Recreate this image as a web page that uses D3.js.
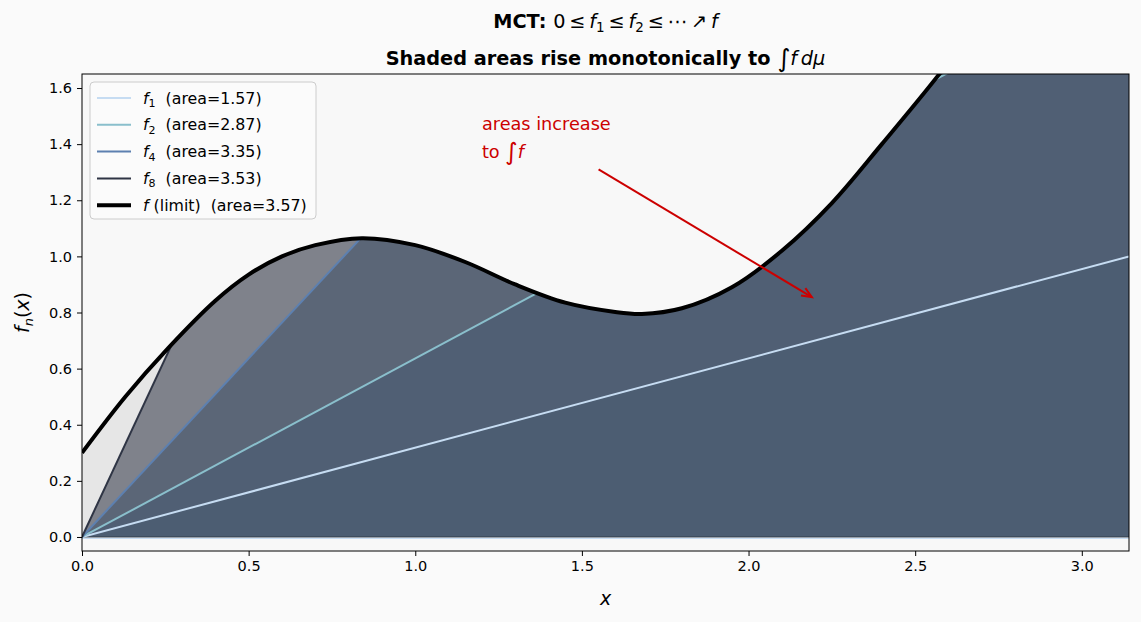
<!DOCTYPE html>
<html>
<head>
<meta charset="utf-8">
<style>
  body { margin: 0; background: #fafafa; }
  svg { display: block; font-family: "DejaVu Sans", sans-serif; }
</style>
</head>
<body>
<svg width="1141" height="622"></svg>
<script src="https://d3js.org/d3.v7.min.js"></script>
<script>

// limit function f
var fX = [0, 0.13, 0.26, 0.4, 0.5, 0.6, 0.7, 0.84, 1.0, 1.15, 1.3, 1.45, 1.6, 1.68, 1.8, 1.95, 2.1, 2.25, 2.4, 2.57, 2.75, 2.95, 3.1416];
var fY = [0.30, 0.50, 0.675, 0.842, 0.935, 1.0, 1.04, 1.065, 1.04, 0.98, 0.90, 0.835, 0.802, 0.795, 0.815, 0.89, 1.02, 1.19, 1.40, 1.646, 1.93, 2.22, 2.5];

// f_n = min(f, ramp): ramp height reached at x = pi
var nVals = [1, 2, 4, 8];
var rampTop = [1.0, 2.0, 4.0, 8.0];
var areas = ["1.57", "2.87", "3.35", "3.53"];
var lineColors = ["#c6dcf2", "#8abfcc", "#5d80b0", "#2f3545"];
var fillColors = ["#4c5d72", "#505f74", "#5b6677", "#7f828b"];
var limitArea = "3.57";

var xTicks = [0, 0.5, 1.0, 1.5, 2.0, 2.5, 3.0];
var yTicks = [0, 0.2, 0.4, 0.6, 0.8, 1.0, 1.2, 1.4, 1.6];

var svg = d3.select("svg"),
    width = +svg.attr("width"),
    height = +svg.attr("height"),
    margin = {left: 82, right: 12, top: 74, bottom: 71};

var x = d3.scaleLinear().domain([0, Math.PI]).range([margin.left, width - margin.right]);
var y = d3.scaleLinear().domain([-0.05, 1.65]).range([height - margin.bottom, margin.top]);

var fData = fX.map(function(d, i) { return [d, fY[i]]; });
var curve = d3.curveCatmullRom.alpha(0.5);

svg.append("rect").attr("width", width).attr("height", height).attr("fill", "#fafafa");
svg.append("rect")
    .attr("x", x(0)).attr("y", y(1.65))
    .attr("width", x(Math.PI) - x(0)).attr("height", y(-0.05) - y(1.65))
    .attr("fill", "#f8f8f8");

var defs = svg.append("defs");
defs.append("clipPath").attr("id", "axclip").append("rect")
    .attr("x", x(0)).attr("y", y(1.65))
    .attr("width", x(Math.PI) - x(0)).attr("height", y(-0.05) - y(1.65));

var areaF = d3.area().curve(curve)
    .x(function(d) { return x(d[0]); })
    .y0(y(0))
    .y1(function(d) { return y(d[1]); });
var areaFdeep = d3.area().curve(curve)
    .x(function(d) { return x(d[0]); })
    .y0(y(-0.05))
    .y1(function(d) { return y(d[1]); });
var lineF = d3.line().curve(curve)
    .x(function(d) { return x(d[0]); })
    .y(function(d) { return y(d[1]); });

defs.append("clipPath").attr("id", "underf").append("path").attr("d", areaFdeep(fData));

nVals.forEach(function(n, i) {
  var pts = [[0, 0], [Math.PI, rampTop[i]], [Math.PI, -0.05], [0, -0.05]];
  defs.append("clipPath").attr("id", "ramp" + n).append("path")
      .attr("d", "M" + pts.map(function(p) { return x(p[0]) + "," + y(p[1]); }).join("L") + "Z");
});

var plot = svg.append("g").attr("clip-path", "url(#axclip)");

// fills: limit first, then f8 .. f1
plot.append("path").attr("d", areaF(fData)).attr("fill", "#e6e6e6");
for (var i = nVals.length - 1; i >= 0; i--) {
  plot.append("g").attr("clip-path", "url(#ramp" + nVals[i] + ")")
    .append("path").attr("d", areaF(fData)).attr("fill", fillColors[i]);
}

// baseline edge
plot.append("line").attr("x1", x(0)).attr("x2", x(Math.PI))
    .attr("y1", y(0)).attr("y2", y(0)).attr("stroke", "#34404f").attr("stroke-width", 1);
plot.append("line").attr("x1", x(0)).attr("x2", x(Math.PI))
    .attr("y1", y(0) + 1.5).attr("y2", y(0) + 1.5).attr("stroke", "#c6dcf2").attr("stroke-width", 1);

// f_n lines
nVals.forEach(function(n, i) {
  var g = plot.append("g");
  g.append("g").attr("clip-path", "url(#underf)")
    .append("line")
    .attr("x1", x(0)).attr("y1", y(0))
    .attr("x2", x(Math.PI)).attr("y2", y(rampTop[i]))
    .attr("stroke", lineColors[i]).attr("stroke-width", 2);
  g.append("g").attr("clip-path", "url(#ramp" + n + ")")
    .append("path").attr("d", lineF(fData))
    .attr("fill", "none").attr("stroke", lineColors[i]).attr("stroke-width", 2);
});

plot.append("path").attr("d", lineF(fData))
    .attr("fill", "none").attr("stroke", "#000").attr("stroke-width", 4);

// axes
var xAxis = svg.append("g").attr("transform", "translate(0," + y(-0.05) + ")")
    .call(d3.axisBottom(x).tickValues(xTicks).tickFormat(d3.format(".1f")).tickSize(5).tickPadding(5));
var yAxis = svg.append("g").attr("transform", "translate(" + x(0) + ",0)")
    .call(d3.axisLeft(y).tickValues(yTicks).tickFormat(d3.format(".1f")).tickSize(5).tickPadding(5));
[xAxis, yAxis].forEach(function(a) {
  a.select(".domain").remove();
  a.selectAll("text").attr("font-size", 14.5).attr("font-family", "DejaVu Sans").attr("fill", "#000");
  a.selectAll("line").attr("stroke", "#000");
});
svg.append("rect")
    .attr("x", x(0)).attr("y", y(1.65))
    .attr("width", x(Math.PI) - x(0)).attr("height", y(-0.05) - y(1.65))
    .attr("fill", "none").attr("stroke", "#000").attr("stroke-width", 1);

// axis labels
svg.append("text").attr("x", (x(0) + x(Math.PI)) / 2).attr("y", 605)
    .attr("text-anchor", "middle").attr("font-size", 19).attr("font-style", "italic").text("x");
var yl = svg.append("text").attr("transform", "translate(29," + (y(0.8)) + ") rotate(-90)")
    .attr("text-anchor", "middle").attr("font-size", 19);
yl.append("tspan").attr("font-style", "italic").text("f");
yl.append("tspan").attr("font-style", "italic").attr("font-size", 13).attr("dy", 4).text("n");
yl.append("tspan").attr("dy", -4).text("(");
yl.append("tspan").attr("font-style", "italic").text("x");
yl.append("tspan").text(")");

// title
var cx = (x(0) + x(Math.PI)) / 2;
var t1 = svg.append("text").attr("x", cx).attr("y", 28).attr("text-anchor", "middle").attr("font-size", 19.3);
t1.append("tspan").attr("font-weight", "bold").text("MCT: ");
t1.append("tspan").text("0\u2009\u2264\u2009");
t1.append("tspan").attr("font-style", "italic").text("f");
t1.append("tspan").attr("font-size", 13.5).attr("dy", 4).text("1");
t1.append("tspan").attr("dy", -4).text("\u2009\u2264\u2009");
t1.append("tspan").attr("font-style", "italic").text("f");
t1.append("tspan").attr("font-size", 13.5).attr("dy", 4).text("2");
t1.append("tspan").attr("dy", -4).text("\u2009\u2264\u2009\u22ef\u2009\u2197\u2009");
t1.append("tspan").attr("font-style", "italic").text("f");

var t2 = svg.append("text").attr("x", cx).attr("y", 65).attr("text-anchor", "middle").attr("font-size", 19.3);
t2.append("tspan").attr("font-weight", "bold").text("Shaded areas rise monotonically to ");
t2.append("tspan").attr("font-size", 25).attr("dy", 2).text("\u222b");
t2.append("tspan").attr("dy", -2).attr("font-style", "italic").text("f\u2009d\u03bc");

// annotation
var red = "#cc0000";
svg.append("text").attr("x", x(1.2)).attr("y", 130).attr("font-size", 17.7).attr("fill", red).text("areas increase");
var a2 = svg.append("text").attr("x", x(1.2)).attr("y", 158).attr("font-size", 17.7).attr("fill", red);
a2.append("tspan").text("to ");
a2.append("tspan").attr("font-size", 24).attr("dy", 2).text("\u222b");
a2.append("tspan").attr("dy", -2).attr("font-style", "italic").text("f");

var ax0 = x(1.55), ay0 = y(1.31), ax1 = x(2.19), ay1 = y(0.855);
svg.append("line").attr("x1", ax0).attr("y1", ay0).attr("x2", ax1).attr("y2", ay1)
    .attr("stroke", red).attr("stroke-width", 2);
var ang = Math.atan2(ay1 - ay0, ax1 - ax0), hl = 11, hw = 0.4;
svg.append("path")
    .attr("d", "M" + (ax1 - hl * Math.cos(ang - hw)) + "," + (ay1 - hl * Math.sin(ang - hw)) +
               "L" + ax1 + "," + ay1 +
               "L" + (ax1 - hl * Math.cos(ang + hw)) + "," + (ay1 - hl * Math.sin(ang + hw)))
    .attr("fill", "none").attr("stroke", red).attr("stroke-width", 2);

// legend
var lg = svg.append("g").attr("transform", "translate(90,82)");
lg.append("rect").attr("width", 226).attr("height", 137).attr("rx", 4)
    .attr("fill", "#fbfbfb").attr("fill-opacity", 0.8).attr("stroke", "#cccccc");
var rows = nVals.map(function(n, i) { return {n: n, color: lineColors[i], w: 2, area: areas[i]}; });
rows.push({n: null, color: "#000", w: 4, area: limitArea});
rows.forEach(function(r, i) {
  var ry = 16 + i * 26.8;
  lg.append("line").attr("x1", 7).attr("x2", 41).attr("y1", ry).attr("y2", ry)
      .attr("stroke", r.color).attr("stroke-width", r.w);
  var t = lg.append("text").attr("x", 53).attr("y", ry + 5.5).attr("font-size", 15.8);
  t.append("tspan").attr("font-style", "italic").text("f");
  if (r.n !== null) {
    t.append("tspan").attr("font-size", 11).attr("dy", 3.5).text(r.n);
    t.append("tspan").attr("dy", -3.5).attr("xml:space", "preserve").text("  (area=" + r.area + ")");
  } else {
    t.append("tspan").attr("xml:space", "preserve").text(" (limit)  (area=" + r.area + ")");
  }
});

</script>
</body>
</html>
